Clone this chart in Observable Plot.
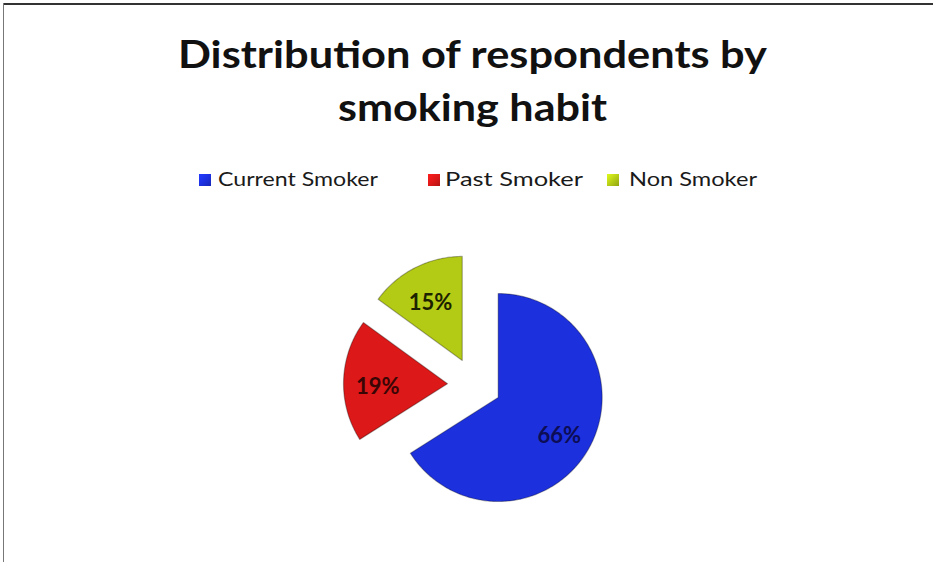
<!DOCTYPE html>
<html>
<head>
<meta charset="utf-8">
<script src="https://cdn.jsdelivr.net/npm/d3@7"></script>
<script src="https://cdn.jsdelivr.net/npm/@observablehq/plot@0.6"></script>
<style>
  html, body { margin: 0; padding: 0; background: #fff; }
  #chart { position: relative; width: 933px; height: 562px; background: #fff; overflow: hidden; font-family: Lato, "Open Sans", sans-serif; }
  #frameTop { position: absolute; left: 3px; top: 3px; width: 930px; height: 0; border-top: 2px solid #333; }
  #frameLeft { position: absolute; left: 3px; top: 3px; width: 0; height: 559px; border-left: 1.5px solid #777; }
  .t { position: absolute; white-space: nowrap; display: inline-block; transform-origin: 0 0; color: #111; }
  .title { font-weight: 700; font-size: 38px; line-height: 47px; }
  .leg { font-size: 18.5px; line-height: 22px; color: #1a1a1a; }
  .sw { position: absolute; width: 12px; height: 12px; }
  #plot { position: absolute; left: 0; top: 200px; }
</style>
</head>
<body>
<div id="chart">
  <div id="frameTop"></div>
  <div id="frameLeft"></div>
  <div id="titles"></div>
  <div id="legend"></div>
  <div id="plot"></div>
</div>
<script>
// ---- data ----
const titleLines = ["Distribution of respondents by", "smoking habit"];
const categories = ["Current Smoker", "Past Smoker", "Non Smoker"];
const shares = [66, 19, 15];
const shareLabels = ["66%", "19%", "15%"];
const colors = ["#1c30de", "#dc1818", "#b4cb16"];
const labelInk = ["#0c0d55", "#3a0505", "#1c2200"];

// ---- layout (px) ----
const titleCenter = 472, titleTops = [30, 83], titleWidths = [589, 269];
const legSwX = [199, 428, 607], legTextX = [218, 445, 629], legTextW = [160, 138, 128];
const legTop = 168, legSwTop = 174;

function fitWidth(el, w) {
  const actual = el.getBoundingClientRect().width;
  el.style.transform = `scaleX(${w / actual})`;
}

// titles
const titles = document.getElementById("titles");
titleLines.forEach((line, i) => {
  const s = document.createElement("span");
  s.className = "t title";
  s.textContent = line;
  s.style.top = titleTops[i] + "px";
  s.style.left = (titleCenter - titleWidths[i] / 2) + "px";
  titles.appendChild(s);
  fitWidth(s, titleWidths[i]);
});

// legend
const legend = document.getElementById("legend");
categories.forEach((c, i) => {
  const sw = document.createElement("div");
  sw.className = "sw";
  sw.style.left = legSwX[i] + "px";
  sw.style.top = legSwTop + "px";
  sw.style.background = `linear-gradient(135deg, ${d3.color(colors[i]).brighter(0.6)}, ${colors[i]} 55%, ${d3.color(colors[i]).darker(0.6)})`;
  legend.appendChild(sw);
  const s = document.createElement("span");
  s.className = "t leg";
  s.textContent = c;
  s.style.left = legTextX[i] + "px";
  s.style.top = legTop + "px";
  legend.appendChild(s);
  fitWidth(s, legTextW[i]);
});

// ---- pie geometry (unit radius, exploded) ----
const W = 933, H = 362, cx = 474, cy = 184, R = 104;
const explode = 27 / R;
const total = d3.sum(shares);
const pts = [];
const labelData = [];
let acc = 0;
categories.forEach((c, i) => {
  const a0 = acc / total * 2 * Math.PI;
  acc += shares[i];
  const a1 = acc / total * 2 * Math.PI;
  const am = (a0 + a1) / 2;
  const ox = explode * Math.sin(am), oy = explode * Math.cos(am);
  pts.push({cat: c, x: ox, y: oy});
  const n = Math.max(4, Math.ceil((a1 - a0) / (Math.PI / 180)));
  for (let k = 0; k <= n; k++) {
    const a = a0 + (a1 - a0) * k / n;
    pts.push({cat: c, x: ox + Math.sin(a), y: oy + Math.cos(a)});
  }
  pts.push({cat: c, x: ox, y: oy});
  labelData.push({cat: c, text: shareLabels[i], ink: labelInk[i],
    x: ox + 0.67 * Math.sin(am), y: oy + 0.67 * Math.cos(am)});
});

const plot = Plot.plot({
  width: W, height: H, margin: 0,
  style: {background: "transparent", overflow: "visible"},
  x: {domain: [-cx / R, (W - cx) / R], axis: null},
  y: {domain: [-(H - cy) / R, cy / R], axis: null},
  color: {domain: categories, range: colors},
  marks: [
    Plot.line(pts, {x: "x", y: "y", z: "cat", fill: "cat", stroke: "#000", strokeOpacity: 0.3, strokeWidth: 1.2}),
    ...labelData.map(d => Plot.text([d], {x: "x", y: "y", text: "text", fill: d.ink, dy: 5,
      fontSize: 22, fontWeight: 700, fontFamily: "Lato, 'Open Sans', sans-serif"}))
  ]
});
document.getElementById("plot").appendChild(plot);
</script>
</body>
</html>
